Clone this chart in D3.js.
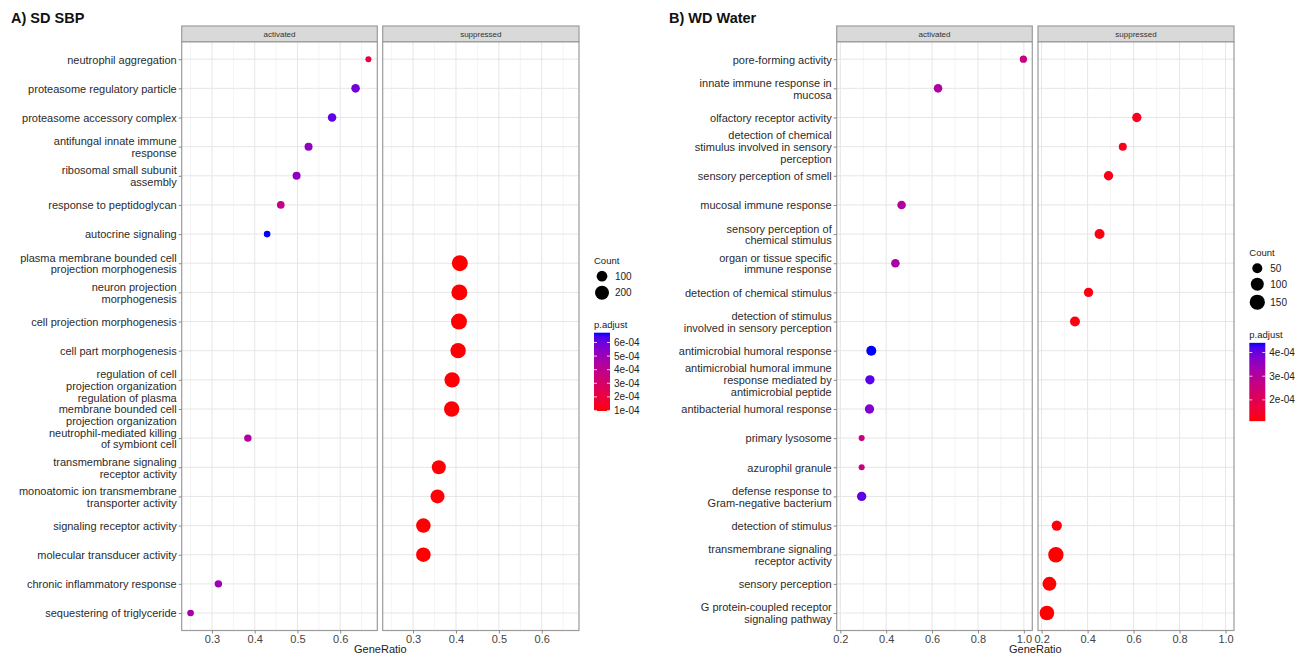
<!DOCTYPE html>
<html>
<head>
<meta charset="utf-8">
<script src="https://cdn.jsdelivr.net/npm/d3@7"></script>
<style>
  body { margin: 0; background: #fff; }
  svg { font-family: "Liberation Sans", Arial, sans-serif; }
</style>
</head>
<body>
<svg id="chart" width="1306" height="656"></svg>
<script>
// ---- panel A: SD SBP ----
var termsA = [
  "neutrophil aggregation",
  "proteasome regulatory particle",
  "proteasome accessory complex",
  "antifungal innate immune\nresponse",
  "ribosomal small subunit\nassembly",
  "response to peptidoglycan",
  "autocrine signaling",
  "plasma membrane bounded cell\nprojection morphogenesis",
  "neuron projection\nmorphogenesis",
  "cell projection morphogenesis",
  "cell part morphogenesis",
  "regulation of cell\nprojection organization",
  "regulation of plasma\nmembrane bounded cell\nprojection organization",
  "neutrophil-mediated killing\nof symbiont cell",
  "transmembrane signaling\nreceptor activity",
  "monoatomic ion transmembrane\ntransporter activity",
  "signaling receptor activity",
  "molecular transducer activity",
  "chronic inflammatory response",
  "sequestering of triglyceride"
];
var groupA = ["activated","activated","activated","activated","activated","activated","activated",
  "suppressed","suppressed","suppressed","suppressed","suppressed","suppressed",
  "activated","suppressed","suppressed","suppressed","suppressed","activated","activated"];
var ratioA = [0.666,0.636,0.581,0.526,0.498,0.461,0.429,0.409,0.408,0.407,0.405,0.391,0.390,0.384,0.360,0.357,0.324,0.324,0.315,0.250];
var countA = [17,54,54,44,44,38,24,276,276,276,252,252,252,35,200,200,221,221,35,24];
var padjA = [2.1e-4,5.86e-4,6.14e-4,5.28e-4,5.28e-4,3.84e-4,6.72e-4,0.98e-4,0.98e-4,0.98e-4,1.0e-4,1.0e-4,1.0e-4,
  4.4e-4,1.02e-4,1.02e-4,0.96e-4,0.96e-4,5.0e-4,4.7e-4];
var xTicksA = [0.3,0.4,0.5,0.6];
var countBreaksA = [100,200];
var padjBreaksA = [1e-4,2e-4,3e-4,4e-4,5e-4,6e-4];

// ---- panel B: WD Water ----
var termsB = [
  "pore-forming activity",
  "innate immune response in\nmucosa",
  "olfactory receptor activity",
  "detection of chemical\nstimulus involved in sensory\nperception",
  "sensory perception of smell",
  "mucosal immune response",
  "sensory perception of\nchemical stimulus",
  "organ or tissue specific\nimmune response",
  "detection of chemical stimulus",
  "detection of stimulus\ninvolved in sensory perception",
  "antimicrobial humoral response",
  "antimicrobial humoral immune\nresponse mediated by\nantimicrobial peptide",
  "antibacterial humoral response",
  "primary lysosome",
  "azurophil granule",
  "defense response to\nGram-negative bacterium",
  "detection of stimulus",
  "transmembrane signaling\nreceptor activity",
  "sensory perception",
  "G protein-coupled receptor\nsignaling pathway"
];
var groupB = ["activated","activated","suppressed","suppressed","suppressed","activated","suppressed","activated",
  "suppressed","suppressed","activated","activated","activated","activated","activated","activated",
  "suppressed","suppressed","suppressed","suppressed"];
var ratioB = [0.998,0.626,0.614,0.553,0.491,0.467,0.452,0.440,0.404,0.345,0.335,0.329,0.327,0.293,0.293,0.293,0.266,0.262,0.234,0.223];
var countB = [19,32,41,26,41,32,50,32,41,50,50,41,41,10,10,41,54,153,122,136];
var padjB = [2.59e-4,3.09e-4,1.3e-4,1.3e-4,1.25e-4,3.09e-4,1.2e-4,3.19e-4,1.2e-4,1.2e-4,4.41e-4,4.15e-4,3.75e-4,
  2.59e-4,2.59e-4,4.08e-4,1.15e-4,1.1e-4,1.1e-4,1.1e-4];
var xTicksB = [0.2,0.4,0.6,0.8,1.0];
var countBreaksB = [50,100,150];
var padjBreaksB = [2e-4,3e-4,4e-4];

var facets = ["activated", "suppressed"];

var svg = d3.select("#chart");
var defs = svg.append("defs");

function fmtExp(v) {
  var p = v.toExponential(0).split("e");
  var e = +p[1];
  return p[0] + "e" + (e < 0 ? "-" : "+") + String(Math.abs(e)).padStart(2, "0");
}

function drawPlot(cfg) {
  var g = svg.append("g");
  var top = 41.7, bottom = 630.5, stripTop = 26;

  // title
  g.append("text").attr("x", cfg.titleX).attr("y", 23)
    .attr("font-size", 14.5).attr("font-weight", "bold").attr("fill", "#111")
    .text(cfg.title);

  var ext = d3.extent(cfg.ratio);
  var pad = (ext[1] - ext[0]) * 0.05;
  var y = d3.scalePoint().domain(cfg.terms).range([top, bottom]).padding(0.6);
  var color = d3.scaleLinear().domain(d3.extent(cfg.padj)).range(["#ff0000", "#0000ff"])
    .interpolate(d3.interpolateLab);
  var size = d3.scaleSqrt().domain(cfg.sizeDomain).range(cfg.sizeRange);

  var step = cfg.xTicks[1] - cfg.xTicks[0];
  var minor = [];
  for (var v = cfg.xTicks[0] - step / 2; v <= ext[1] + pad; v += step) {
    if (v >= ext[0] - pad) minor.push(v);
  }

  var rows = cfg.terms.map(function (t, i) {
    return { term: t, group: cfg.group[i], ratio: cfg.ratio[i], count: cfg.count[i], padj: cfg.padj[i] };
  });

  facets.forEach(function (f, fi) {
    var x0 = cfg.panels[fi][0], x1 = cfg.panels[fi][1];
    var x = d3.scaleLinear().domain([ext[0] - pad, ext[1] + pad]).range([x0, x1]);
    var p = g.append("g");

    p.append("rect").attr("x", x0).attr("y", top).attr("width", x1 - x0).attr("height", bottom - top)
      .attr("fill", "#fff");
    p.selectAll(".minor").data(minor).enter().append("line")
      .attr("x1", function (d) { return x(d); }).attr("x2", function (d) { return x(d); })
      .attr("y1", top).attr("y2", bottom).attr("stroke", "#f1f1f1").attr("stroke-width", 0.8);
    p.selectAll(".vmaj").data(cfg.xTicks).enter().append("line")
      .attr("x1", function (d) { return x(d); }).attr("x2", function (d) { return x(d); })
      .attr("y1", top).attr("y2", bottom).attr("stroke", "#e6e6e6").attr("stroke-width", 1);
    p.selectAll(".hmaj").data(cfg.terms).enter().append("line")
      .attr("x1", x0).attr("x2", x1)
      .attr("y1", function (d) { return y(d); }).attr("y2", function (d) { return y(d); })
      .attr("stroke", "#e6e6e6").attr("stroke-width", 1);

    p.selectAll("circle").data(rows.filter(function (r) { return r.group === f; })).enter()
      .append("circle")
      .attr("cx", function (d) { return x(d.ratio); })
      .attr("cy", function (d) { return y(d.term); })
      .attr("r", function (d) { return size(d.count); })
      .attr("fill", function (d) { return color(d.padj); });

    p.append("rect").attr("x", x0).attr("y", top).attr("width", x1 - x0).attr("height", bottom - top)
      .attr("fill", "none").attr("stroke", "#9c9c9c").attr("stroke-width", 1.2);

    // strip
    p.append("rect").attr("x", x0).attr("y", stripTop).attr("width", x1 - x0).attr("height", top - stripTop)
      .attr("fill", "#d9d9d9").attr("stroke", "#9c9c9c").attr("stroke-width", 1.2);
    p.append("text").attr("x", (x0 + x1) / 2).attr("y", (stripTop + top) / 2).attr("dy", "0.35em")
      .attr("text-anchor", "middle").attr("font-size", 8).attr("fill", "#333").text(f);

    // x axis
    var ax = p.append("g").attr("transform", "translate(0," + bottom + ")")
      .call(d3.axisBottom(x).tickValues(cfg.xTicks).tickSize(3).tickPadding(2).tickFormat(d3.format(".1f")));
    ax.select(".domain").remove();
    ax.selectAll("line").attr("stroke", "#888");
    ax.selectAll("text").attr("font-size", 11).attr("fill", "#444").attr("font-family", null);

    if (fi === 0) {
      var ay = g.append("g").attr("transform", "translate(" + x0 + ",0)")
        .call(d3.axisLeft(y).tickSize(3).tickPadding(2));
      ay.select(".domain").remove();
      ay.selectAll("line").attr("stroke", "#888");
      ay.selectAll("text").attr("font-size", 11).attr("fill", "#2b2b2b").attr("font-family", null)
        .each(function (d) {
          var t = d3.select(this);
          var lines = d.split("\n");
          t.text(null).attr("dy", null);
          lines.forEach(function (ln, li) {
            t.append("tspan").attr("x", -5)
              .attr("dy", li === 0 ? ((-(lines.length - 1) / 2) * 1.07 + 0.35) + "em" : "1.07em")
              .text(ln);
          });
        });
    }
  });

  // x title
  g.append("text").attr("x", (cfg.panels[0][0] + cfg.panels[1][1]) / 2).attr("y", 650).attr("dy", "0.3em")
    .attr("text-anchor", "middle").attr("font-size", 11).attr("fill", "#222").text("GeneRatio");

  // count legend
  var lx = cfg.legendX, ly = cfg.legendY;
  g.append("text").attr("x", lx).attr("y", ly).attr("dy", "0.35em")
    .attr("font-size", 9.5).attr("fill", "#222").text("Count");
  var cy = ly + 8;
  var keyCenters = [];
  cfg.countBreaks.forEach(function (b) {
    var h = Math.max(15, 2 * size(b) + 4);
    keyCenters.push(cy + h / 2);
    cy += h;
  });
  g.selectAll(".key").data(cfg.countBreaks).enter().append("circle")
    .attr("cx", lx + 8).attr("cy", function (d, i) { return keyCenters[i]; })
    .attr("r", function (d) { return size(d); }).attr("fill", "#000");
  g.selectAll(".keylab").data(cfg.countBreaks).enter().append("text")
    .attr("x", lx + 21).attr("y", function (d, i) { return keyCenters[i]; }).attr("dy", "0.35em")
    .attr("font-size", 10).attr("fill", "#222").text(function (d) { return d; });

  // colour bar
  var ty = cy + 23;
  g.append("text").attr("x", lx).attr("y", ty).attr("dy", "0.35em")
    .attr("font-size", 9.5).attr("fill", "#222").text("p.adjust");
  var barTop = ty + 8, barH = 78.3, barW = 16;
  var cb = d3.scaleLinear().domain(color.domain()).range([barTop + barH, barTop]);
  var gid = "grad" + cfg.id;
  var grad = defs.append("linearGradient").attr("id", gid)
    .attr("x1", 0).attr("y1", 1).attr("x2", 0).attr("y2", 0);
  d3.range(0, 1.0001, 0.05).forEach(function (t) {
    grad.append("stop").attr("offset", t)
      .attr("stop-color", color(color.domain()[0] + t * (color.domain()[1] - color.domain()[0])));
  });
  g.append("rect").attr("x", lx).attr("y", barTop).attr("width", barW).attr("height", barH)
    .attr("fill", "url(#" + gid + ")");
  cfg.padjBreaks.forEach(function (b) {
    var yy = cb(b);
    g.append("line").attr("x1", lx).attr("x2", lx + 3).attr("y1", yy).attr("y2", yy)
      .attr("stroke", "#fff").attr("stroke-width", 0.8);
    g.append("line").attr("x1", lx + barW - 3).attr("x2", lx + barW).attr("y1", yy).attr("y2", yy)
      .attr("stroke", "#fff").attr("stroke-width", 0.8);
    g.append("text").attr("x", lx + barW + 4).attr("y", yy).attr("dy", "0.35em")
      .attr("font-size", 10).attr("fill", "#222").text(fmtExp(b));
  });
}

drawPlot({
  id: "A", title: "A) SD SBP", titleX: 11,
  terms: termsA, group: groupA, ratio: ratioA, count: countA, padj: padjA,
  xTicks: xTicksA, countBreaks: countBreaksA, padjBreaks: padjBreaksA,
  panels: [[181.7, 377.3], [382.7, 579]],
  sizeDomain: [100, 200], sizeRange: [5.35, 7.0],
  legendX: 594, legendY: 260.7
});

drawPlot({
  id: "B", title: "B) WD Water", titleX: 669,
  terms: termsB, group: groupB, ratio: ratioB, count: countB, padj: padjB,
  xTicks: xTicksB, countBreaks: countBreaksB, padjBreaks: padjBreaksB,
  panels: [[836.7, 1032.3], [1038, 1234]],
  sizeDomain: [50, 150], sizeRange: [5.0, 7.6],
  legendX: 1249.3, legendY: 252.7
});
</script>
</body>
</html>
